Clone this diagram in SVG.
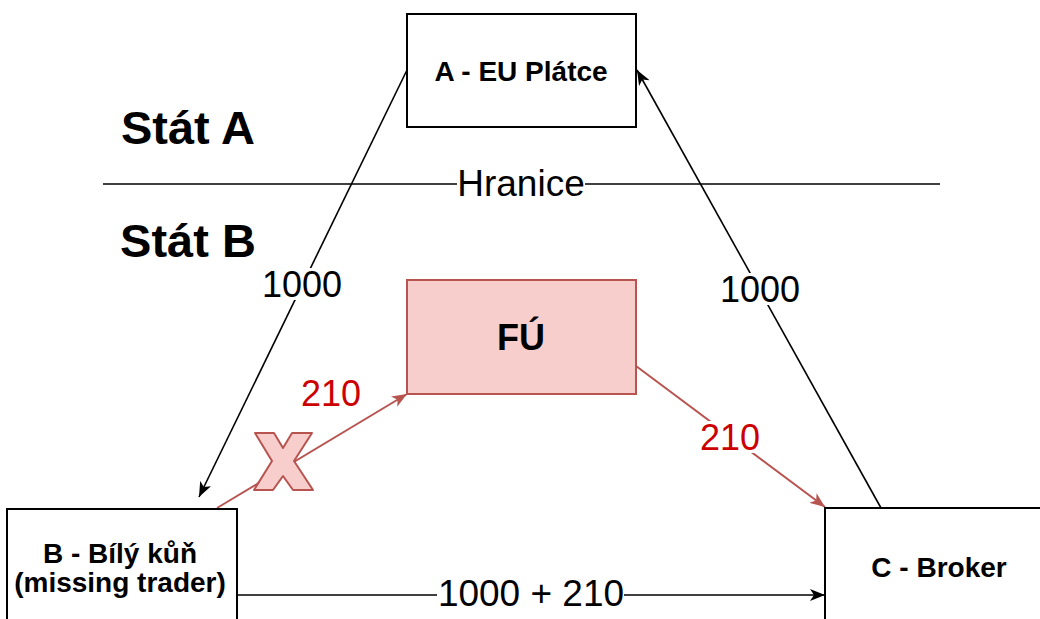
<svg xmlns="http://www.w3.org/2000/svg" width="1040" height="619" viewBox="0 0 1040 619">
<style>
.box{fill:#ffffff;stroke:#000000;stroke-width:2}
.fu{fill:#f8cecc;stroke:#b85450;stroke-width:2}
.ln{fill:none;stroke:#000000;stroke-width:1.6}
.rl{fill:none;stroke:#b85450;stroke-width:2}
.t{font-family:"Liberation Sans",Arial,Helvetica,sans-serif;fill:#000000;text-anchor:middle}
.b{font-weight:bold}
.red{fill:#cc0000}
</style>
<defs>
<marker id="ab" markerUnits="userSpaceOnUse" viewBox="0 0 16 12" markerWidth="16" markerHeight="12" refX="15" refY="6" orient="auto">
<path d="M0,0 L15,6 L0,12 L4,6 Z" fill="#000000"/>
</marker>
<marker id="ar" markerUnits="userSpaceOnUse" viewBox="0 0 16 12" markerWidth="16" markerHeight="12" refX="15" refY="6" orient="auto">
<path d="M0,0 L15,6 L0,12 L4,6 Z" fill="#b85450"/>
</marker>
</defs>

<g id="labels">
<text class="t b" x="188" y="144" font-size="47">Stát A</text>
<text class="t b" x="188" y="257" font-size="47">Stát B</text>
</g>

<g id="border">
<line x1="103" y1="184" x2="940" y2="184" class="ln"/>
<rect x="457" y="168" width="128" height="32" fill="#ffffff"/>
<text class="t" x="521" y="196" font-size="37">Hranice</text>
</g>

<g id="connectors">
<line x1="407" y1="70" x2="199" y2="497" class="ln" marker-end="url(#ab)"/>
<line x1="881" y1="508" x2="637" y2="70" class="ln" marker-end="url(#ab)"/>
<line x1="217" y1="508" x2="407" y2="394" class="rl" marker-end="url(#ar)"/>
<line x1="636" y1="366" x2="825" y2="507" class="rl" marker-end="url(#ar)"/>
<line x1="237" y1="595" x2="825" y2="595" class="ln" marker-end="url(#ab)"/>
<rect x="261" y="268" width="82" height="32" fill="#ffffff"/>
<text class="t" x="302" y="297" font-size="36">1000</text>
<rect x="719" y="273" width="82" height="32" fill="#ffffff"/>
<text class="t" x="760" y="302" font-size="36">1000</text>
<text class="t red" x="331" y="406" font-size="36">210</text>
<rect x="697" y="421" width="66" height="32" fill="#ffffff"/>
<text class="t red" x="730" y="450" font-size="36">210</text>
<rect x="437" y="579" width="187" height="32" fill="#ffffff"/>
<text class="t" x="531" y="606" font-size="37">1000 + 210</text>
</g>

<g id="cross">
<polygon points="255,433 274,433 283,448 292,433 312,433 294,461 313,490 293,490 283,476 273,490 254,490 272,461" fill="#f8cecc" stroke="#b85450" stroke-width="2" stroke-linejoin="round"/>
</g>

<g id="nodeA">
<rect x="407" y="14" width="229" height="113" class="box"/>
<text class="t b" x="521" y="81" font-size="28">A - EU Plátce</text>
</g>

<g id="nodeFU">
<rect x="407" y="280" width="229" height="114" class="fu"/>
<text class="t b" x="521" y="350" font-size="36">FÚ</text>
</g>

<g id="nodeB">
<rect x="7" y="509" width="230" height="114" class="box"/>
<text class="t b" x="120" y="563" font-size="28">B - Bílý kůň</text>
<text class="t b" x="120" y="592" font-size="28">(missing trader)</text>
</g>

<g id="nodeC">
<rect x="825" y="508" width="229" height="116" class="box"/>
<text class="t b" x="939" y="577" font-size="28">C - Broker</text>
</g>
</svg>
